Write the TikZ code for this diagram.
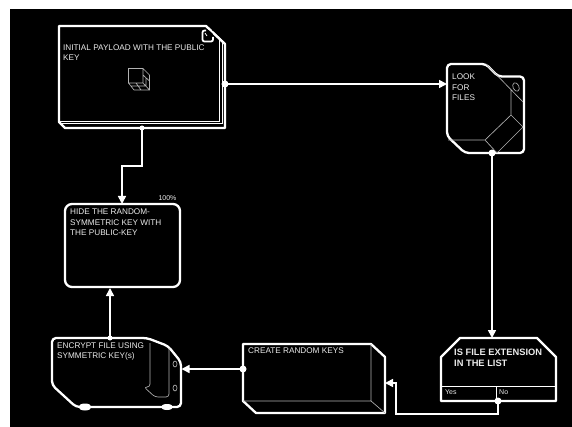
\documentclass[tikz,border=0pt]{standalone}
\usepackage{fontspec}
\setmainfont{Liberation Sans}
\usetikzlibrary{arrows.meta}
\tikzset{
  shapeline/.style={draw=white,line width=2.3pt,line join=round},
  thinline/.style={draw=white!70!black,line width=0.65pt},
  conn/.style={draw=white,line width=1.6pt},
  arrowconn/.style={conn,-{Triangle[width=8pt,length=8pt,fill=white]}},
  dotmark/.style={fill=white,circle,inner sep=0pt,minimum size=7pt},
  label/.style={text=white!92!black,font=\fontsize{8.2pt}{10.3pt}\selectfont,anchor=north west,inner sep=0pt,align=left},
}
\begin{document}
\begin{tikzpicture}[x=1pt,y=-1pt]
\useasboundingbox (0,0) rectangle (572,427);
\fill[white] (0,0) rectangle (572,427);
\fill[black] (10,9) rectangle (572,427);
% anchors
\coordinate (payR) at (225,84);
\coordinate (payB) at (142,128);
\coordinate (hideT) at (122,204);
\coordinate (hideB) at (110,288);
\coordinate (lookL) at (447,84);
\coordinate (lookB) at (492,153);
\coordinate (fileT) at (492,338);
\coordinate (fileB) at (498,401);
\coordinate (keysR) at (385,383);
\coordinate (keysL) at (243,369);
\coordinate (encR) at (181.5,369);
\coordinate (encT) at (110,338);
% payload
\draw[draw=white,line width=0.9pt] (59,121)--(219,121)--(219,38) (61.5,123.7)--(222,123.7)--(222,41);
\draw[shapeline] (59,26)--(206,26)--(225,44)--(225,128)--(65,128)--(59,122)--cycle;
\fill[black] (203,30) rectangle (213,42);
\draw[draw=white,line width=1.8pt,rounded corners=2pt] (206,30.5)--(202.5,30.5)--(202.5,41.5)--(213,41.5)--(213,37);
\draw[draw=white,line width=0.8pt] (205,33)--(207,36);
\draw[draw=white,line width=1.8pt] (206,26)--(225,44);
\draw[thinline] (128.5,68.5) rectangle (143,83) (128.5,83)--(134,90)--(149.5,90)--(149.5,75)--(143,68.5)
 (143,83)--(149.5,90) (143,75)--(149.5,81) (131,86)--(146,86) (136,83)--(141,90) (146,78)--(146,86);
\node[label] (payT) at (63,44.5) {INITIAL PAYLOAD WITH THE PUBLIC\\KEY};
% hide
\draw[shapeline,rounded corners=7pt] (65,204) rectangle (180,287);
\node[label] (hideTxt) at (70,209) {HIDE THE RANDOM-\\SYMMETRIC KEY WITH\\THE PUBLIC-KEY};
\node[text=white!92!black,font=\fontsize{7pt}{8pt}\selectfont,inner sep=0pt] (pct) at (167.5,198.5) {100\%};
% look
\draw[shapeline,rounded corners=4pt] (447,64)--(486,64)--(498,76.5)--(524,76.5)--(524,153)--(465,153)--(447,136)--cycle;
\draw[thinline] (486,64)--(523,102) (511,90)--(511,115)--(523,127)--(497,153) (511,115)--(485,140)--(448,140) (485,140)--(497,153);
\draw[thinline,rotate around={25:(516,87)}] (516,87) ellipse (3pt and 4.5pt);
\node[label] (lookTxt) at (452,74) {LOOK\\FOR\\FILES};
% file
\draw[shapeline] (460,338)--(537,338)--(556,357)--(556,401)--(441,401)--(441,357)--cycle;
\draw[draw=white,line width=0.7pt] (441,386)--(556,386) (496,386)--(496,401);
\node[label,font=\bfseries\fontsize{9.3pt}{11.2pt}\selectfont] (fileTxt) at (454,349) {IS FILE EXTENSION\\IN THE LIST};
\node[label,font=\fontsize{7pt}{8pt}\selectfont] (yesTxt) at (445,389.5) {Yes};
\node[label,font=\fontsize{7pt}{8pt}\selectfont] (noTxt) at (499,389.5) {No};
% keys
\draw[shapeline] (243,344)--(371,344)--(385,357)--(385,413)--(256,413)--(243,401)--cycle;
\draw[thinline] (371,344)--(371,401)--(243,401) (371,401)--(385,413);
\node[label] (keysTxt) at (248,348) {CREATE RANDOM KEYS};
% encrypt
\draw[shapeline,rounded corners=4pt] (52,338)--(147,338)--(168,346)--(181,362)--(181,407)--(76,407)--(52,385)--cycle;
\draw[thinline,rounded corners=3pt] (150,343)--(150,387)--(144,387)--(155,397)--(169,397)--(169,348);
\draw[thinline] (175,364) ellipse (2pt and 3pt) (175,388) ellipse (2pt and 3pt);
\fill[white] (85,407) ellipse (6.5pt and 3.5pt) (167,407) ellipse (6pt and 3pt);
\node[label] (encTxt) at (57,342.5) {ENCRYPT FILE USING\\SYMMETRIC KEY(s)};
% connectors
\draw[arrowconn] (payR)--(lookL);
\draw[arrowconn] (payB)--(142,166)--(122,166)--(hideT);
\draw[arrowconn] (lookB)--(fileT);
\draw[arrowconn] (fileB)--(498,414)--(396,414)--(396,383)--(keysR);
\draw[arrowconn] (keysL)--(encR);
\draw[arrowconn] (encT)--(hideB);
% dots
\node[dotmark] (d1) at (payR) {};
\node[dotmark,minimum size=5pt] (d2) at (payB) {};
\node[dotmark] (d3) at (lookB) {};
\node[dotmark] (d4) at (fileB) {};
\node[dotmark] (d5) at (keysL) {};
\node[dotmark,minimum size=5pt] (d6) at (encT) {};
\end{tikzpicture}
\end{document}
